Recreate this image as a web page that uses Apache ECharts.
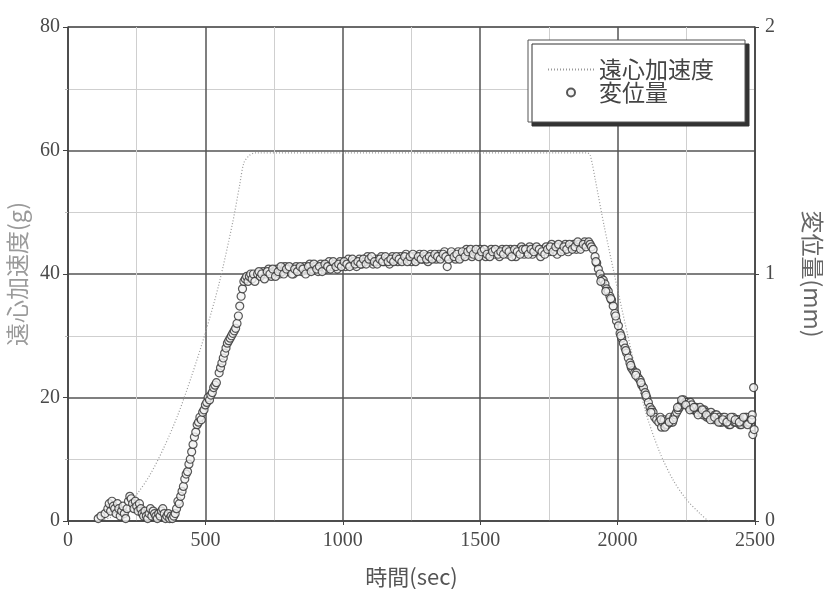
<!DOCTYPE html>
<html>
<head>
<meta charset="utf-8">
<script src="https://cdn.jsdelivr.net/npm/echarts@6/dist/echarts.min.js"></script>
<style>
  html, body { margin: 0; padding: 0; background: #fff; }
  #chart { width: 829px; height: 589px; }
</style>
</head>
<body>
<div id="chart"></div>
<script>
// ===== data =====
const seriesNames = ['遠心加速度', '変位量']

// centrifugal acceleration (g) vs time (sec)
const accelData = [
  [100, 0], [150, 0.5], [200, 1.9], [250, 4.3], [300, 7.6], [350, 12], [400, 17.2],
  [450, 23.5], [500, 30.5], [550, 38.5], [600, 48.5], [625, 54.5], [640, 58],
  [660, 59.2], [680, 59.6], [1000, 59.6], [1500, 59.6], [1890, 59.6], [1900, 59.3],
  [1920, 55], [1950, 48], [2000, 37.5], [2050, 27.5], [2100, 18], [2150, 11.5],
  [2200, 6.8], [2250, 3.5], [2300, 1.2], [2330, 0]
]

// displacement (mm) vs time (sec)
const dispStart = [
  [110, 0.01], [120, 0.02], [135, 0.03], [145, 0.05], [150, 0.07], [155, 0.04], [160, 0.08],
  [165, 0.06], [170, 0.05], [175, 0.03], [180, 0.07], [185, 0.05], [190, 0.02], [195, 0.04],
  [200, 0.06], [205, 0.03], [210, 0.01], [215, 0.05], [220, 0.08], [225, 0.1], [230, 0.09],
  [235, 0.07], [240, 0.05], [245, 0.08], [250, 0.06], [255, 0.04], [260, 0.07], [265, 0.05],
  [270, 0.03], [275, 0.02], [280, 0.04], [285, 0.02], [290, 0.01], [295, 0.03], [300, 0.05],
  [305, 0.02], [310, 0.04], [315, 0.03], [320, 0.02], [325, 0.01], [330, 0.03], [335, 0.02],
  [340, 0.04], [345, 0.05], [350, 0.03], [355, 0.01], [360, 0.02], [365, 0.03], [370, 0.01],
  [375, 0.02], [380, 0.01], [385, 0.02], [390, 0.03]
]
const dispRise = [
  [395, 0.05], [400, 0.08], [405, 0.07], [410, 0.1], [415, 0.12], [420, 0.14], [425, 0.17],
  [430, 0.19], [435, 0.2], [440, 0.23], [445, 0.25], [450, 0.28], [455, 0.31], [460, 0.34],
  [465, 0.36], [470, 0.39], [475, 0.4], [480, 0.42], [485, 0.41], [490, 0.44], [495, 0.45],
  [500, 0.47], [505, 0.48], [510, 0.5], [515, 0.49], [520, 0.51], [525, 0.52], [530, 0.54],
  [535, 0.55], [540, 0.56], [550, 0.6], [555, 0.62], [560, 0.64], [565, 0.66], [570, 0.68],
  [575, 0.7], [580, 0.72], [585, 0.73], [590, 0.74], [595, 0.75], [600, 0.76], [605, 0.77],
  [610, 0.78], [615, 0.8], [620, 0.83], [625, 0.87], [630, 0.91], [635, 0.94], [640, 0.97],
  [645, 0.98], [650, 0.99], [655, 0.97], [660, 0.99], [665, 1.0], [670, 0.98], [675, 1.0],
  [680, 0.97]
]
const dispPlateau = [
  [690, 1.00], [700, 0.99], [710, 1.01], [720, 1.00], [730, 1.02], [740, 0.99], [750, 1.01],
  [760, 1.02], [770, 1.00], [780, 1.01], [790, 1.03], [800, 1.01], [810, 1.02], [820, 1.00],
  [830, 1.03], [840, 1.02], [850, 1.01], [860, 1.03], [870, 1.02], [880, 1.04], [890, 1.02],
  [900, 1.03], [910, 1.01], [920, 1.04], [930, 1.03], [940, 1.02], [950, 1.05], [960, 1.03],
  [970, 1.04], [980, 1.02], [990, 1.05], [1000, 1.04], [1010, 1.03], [1020, 1.06], [1030, 1.04],
  [1040, 1.05], [1050, 1.03], [1060, 1.06], [1070, 1.04], [1080, 1.05], [1090, 1.07], [1100, 1.05],
  [1110, 1.04], [1120, 1.06], [1130, 1.05], [1140, 1.07], [1150, 1.05], [1160, 1.06], [1170, 1.04],
  [1180, 1.07], [1190, 1.06], [1200, 1.05], [1210, 1.07], [1220, 1.06], [1230, 1.08], [1240, 1.06],
  [1250, 1.05], [1260, 1.07], [1270, 1.06], [1280, 1.08], [1290, 1.06], [1300, 1.07], [1310, 1.05],
  [1320, 1.08], [1330, 1.07], [1340, 1.06], [1350, 1.08], [1360, 1.07], [1370, 1.09], [1380, 1.03],
  [1390, 1.07], [1400, 1.08], [1410, 1.06], [1420, 1.09], [1430, 1.07], [1440, 1.08], [1450, 1.10],
  [1460, 1.08], [1470, 1.07], [1480, 1.09], [1490, 1.08], [1500, 1.10], [1510, 1.08], [1520, 1.07],
  [1530, 1.09], [1540, 1.10], [1550, 1.08], [1560, 1.09], [1570, 1.07], [1580, 1.10], [1590, 1.09],
  [1600, 1.08], [1610, 1.10], [1620, 1.09], [1630, 1.07], [1640, 1.10], [1650, 1.11], [1660, 1.08],
  [1670, 1.09], [1680, 1.11], [1690, 1.08], [1700, 1.10], [1710, 1.09], [1720, 1.07], [1730, 1.10],
  [1740, 1.11], [1750, 1.09], [1760, 1.12], [1770, 1.10], [1780, 1.08], [1790, 1.11], [1800, 1.10],
  [1810, 1.12], [1820, 1.09], [1830, 1.11], [1840, 1.12], [1850, 1.10], [1860, 1.12], [1870, 1.11],
  [1880, 1.13], [1890, 1.12]
]
// second pass of readings inside the same dense band
const dispPlateauB = [
  [695, 1.01], [705, 1.00], [715, 0.98], [725, 1.01], [735, 1.00], [745, 1.02], [755, 0.99],
  [765, 1.01], [775, 1.03], [785, 1.00], [795, 1.02], [805, 1.03], [815, 1.00], [825, 1.02],
  [835, 1.01], [845, 1.03], [855, 1.02], [865, 1.00], [875, 1.03], [885, 1.01], [895, 1.04],
  [905, 1.02], [915, 1.03], [925, 1.01], [935, 1.04], [945, 1.03], [955, 1.02], [965, 1.05],
  [975, 1.03], [985, 1.04], [995, 1.03], [1005, 1.05], [1015, 1.04], [1025, 1.03], [1035, 1.06],
  [1045, 1.04], [1055, 1.05], [1065, 1.04], [1075, 1.06], [1085, 1.04], [1095, 1.06], [1105, 1.07],
  [1115, 1.05], [1125, 1.04], [1135, 1.06], [1145, 1.05], [1155, 1.07], [1165, 1.05], [1175, 1.06],
  [1185, 1.05], [1195, 1.07], [1205, 1.06], [1215, 1.05], [1225, 1.07], [1235, 1.05], [1245, 1.07],
  [1255, 1.08], [1265, 1.05], [1275, 1.07], [1285, 1.06], [1295, 1.08], [1305, 1.06], [1315, 1.07],
  [1325, 1.06], [1335, 1.08], [1345, 1.07], [1355, 1.06], [1365, 1.08], [1375, 1.07], [1385, 1.06],
  [1395, 1.09], [1405, 1.07], [1415, 1.08], [1425, 1.06], [1435, 1.09], [1445, 1.07], [1455, 1.09],
  [1465, 1.10], [1475, 1.08], [1485, 1.10], [1495, 1.07], [1505, 1.09], [1515, 1.10], [1525, 1.08],
  [1535, 1.07], [1545, 1.09], [1555, 1.10], [1565, 1.08], [1575, 1.09], [1585, 1.08], [1595, 1.10],
  [1605, 1.09], [1615, 1.07], [1625, 1.10], [1635, 1.09], [1645, 1.08], [1655, 1.10], [1665, 1.10],
  [1675, 1.08], [1685, 1.10], [1695, 1.09], [1705, 1.11], [1715, 1.10], [1725, 1.09], [1735, 1.08],
  [1745, 1.10], [1755, 1.11], [1765, 1.09], [1775, 1.11], [1785, 1.12], [1795, 1.09], [1805, 1.11],
  [1815, 1.10], [1825, 1.12], [1835, 1.10], [1845, 1.11], [1855, 1.13], [1865, 1.10], [1875, 1.12],
  [1885, 1.11], [1895, 1.13]
]
const dispFall = [
  [1900, 1.12], [1905, 1.11], [1911, 1.10], [1918, 1.07], [1924, 1.045], [1930, 1.02], [1936, 1.0],
  [1942, 0.98], [1948, 0.975], [1954, 0.96], [1960, 0.94], [1966, 0.93], [1972, 0.91], [1978, 0.895],
  [1984, 0.87], [1990, 0.84], [1996, 0.81], [2003, 0.79], [2009, 0.76], [2015, 0.74], [2021, 0.72],
  [2027, 0.70], [2033, 0.68], [2039, 0.66], [2045, 0.64], [2050, 0.62], [2056, 0.61], [2062, 0.60],
  [2069, 0.60], [2075, 0.58], [2082, 0.57], [2088, 0.55], [2094, 0.54], [2100, 0.52], [2106, 0.50],
  [2112, 0.48], [2118, 0.46], [2124, 0.45], [2129, 0.44], [2135, 0.42], [2142, 0.41],
  [1921, 1.05], [1939, 0.97], [1957, 0.93], [1975, 0.90], [1993, 0.83], [2012, 0.75], [2030, 0.69],
  [2048, 0.63], [2066, 0.59], [2085, 0.56], [2103, 0.51], [2121, 0.44]
]
const dispTail = [
  [2150, 0.40], [2155, 0.42], [2160, 0.38], [2165, 0.40], [2170, 0.41], [2175, 0.39], [2180, 0.39],
  [2185, 0.41], [2190, 0.42], [2195, 0.40], [2200, 0.40], [2205, 0.42], [2210, 0.43], [2215, 0.44],
  [2220, 0.45], [2225, 0.46], [2230, 0.47], [2235, 0.48], [2240, 0.49], [2245, 0.48], [2250, 0.48],
  [2255, 0.47], [2260, 0.46], [2265, 0.48], [2270, 0.47], [2275, 0.45], [2280, 0.45], [2285, 0.46],
  [2290, 0.44], [2295, 0.45], [2300, 0.46], [2305, 0.44], [2310, 0.43], [2315, 0.45], [2320, 0.44],
  [2325, 0.42], [2330, 0.42], [2335, 0.43], [2340, 0.44], [2345, 0.42], [2350, 0.41], [2355, 0.43],
  [2360, 0.43], [2365, 0.41], [2370, 0.42], [2375, 0.40], [2380, 0.40], [2385, 0.42], [2390, 0.42],
  [2395, 0.40], [2400, 0.41], [2405, 0.39], [2410, 0.39], [2415, 0.41], [2420, 0.42], [2425, 0.40],
  [2430, 0.40], [2435, 0.41], [2440, 0.41], [2445, 0.39], [2450, 0.39], [2455, 0.41], [2460, 0.40],
  [2465, 0.42], [2470, 0.42], [2475, 0.40], [2480, 0.40], [2485, 0.41], [2490, 0.43],
  [2158, 0.41], [2172, 0.38], [2188, 0.40], [2203, 0.41], [2218, 0.46], [2233, 0.49], [2248, 0.47],
  [2263, 0.45], [2278, 0.46], [2293, 0.43], [2308, 0.45], [2323, 0.43], [2338, 0.41], [2353, 0.42],
  [2368, 0.40], [2383, 0.41], [2398, 0.40], [2413, 0.42], [2428, 0.41], [2443, 0.40], [2458, 0.42],
  [2473, 0.39], [2488, 0.41],
  [2495, 0.54], [2492, 0.35], [2497, 0.37]
]

const dispData = [...dispStart, ...dispRise, ...dispPlateau, ...dispPlateauB, ...dispFall, ...dispTail]

// ===== chart =====
const numFont = { fontFamily: 'Liberation Serif', fontSize: 20, color: '#4a4a4a' }
const cjkFont = 'Noto Sans CJK JP'

const chart = echarts.init(document.getElementById('chart'))
chart.setOption({
  animation: false,
  backgroundColor: '#fff',
  grid: {
    left: 68, right: 74, top: 27, bottom: 68,
    outerBoundsMode: 'none',
    containLabel: false,
    show: true, borderColor: '#555', borderWidth: 1,
  },
  legend: {
    orient: 'vertical',
    left: 528,
    top: 40,
    data: [
      { name: seriesNames[0], itemStyle: { opacity: 0 } },
      { name: seriesNames[1] },
    ],
    itemWidth: 46,
    itemHeight: 8,
    itemGap: 0,
    padding: [18, 31, 18, 19],
    backgroundColor: '#fff',
    borderColor: '#555',
    borderWidth: 1,
    shadowColor: '#333',
    shadowOffsetX: 4,
    shadowOffsetY: 4,
    shadowBlur: 0,
    textStyle: { fontFamily: cjkFont, fontSize: 23, color: '#444', lineHeight: 23 },
  },
  xAxis: {
    type: 'value',
    min: 0,
    max: 2500,
    interval: 500,
    name: '時間(sec)',
    nameLocation: 'middle',
    nameGap: 45,
    nameTextStyle: { fontFamily: cjkFont, fontSize: 22, color: '#555' },
    axisLine: { lineStyle: { color: '#444', width: 1.5 } },
    axisTick: { show: true, length: 4, lineStyle: { color: '#444' } },
    axisLabel: { ...numFont, margin: 10, formatter: (v) => String(v) },
    splitLine: { lineStyle: { color: '#555', width: 1.5 } },
    minorTick: { show: false, splitNumber: 2 },
    minorSplitLine: { show: true, lineStyle: { color: '#cfcfcf', width: 1 } },
  },
  yAxis: [
    {
      type: 'value',
      min: 0,
      max: 80,
      interval: 20,
      name: '遠心加速度(g)',
      nameLocation: 'middle',
      nameGap: 38,
      nameTextStyle: { fontFamily: cjkFont, fontSize: 23, color: '#9a9a9a' },
      axisLine: { show: true, lineStyle: { color: '#444', width: 1.5 } },
      axisTick: { show: true, length: 5, lineStyle: { color: '#444' } },
      minorTick: { show: true, splitNumber: 2, length: 3, lineStyle: { color: '#bbb' } },
      axisLabel: { ...numFont, margin: 8 },
      splitLine: { lineStyle: { color: '#555', width: 1.5 } },
      minorSplitLine: { show: true, lineStyle: { color: '#cfcfcf', width: 1 } },
    },
    {
      type: 'value',
      min: 0,
      max: 2,
      interval: 1,
      position: 'right',
      name: '変位量(mm)',
      nameLocation: 'middle',
      nameGap: 46,
      nameRotate: -90,
      nameTextStyle: { fontFamily: cjkFont, fontSize: 23, color: '#666' },
      axisLine: { show: true, lineStyle: { color: '#444', width: 1.5 } },
      axisTick: { show: true, length: 4, lineStyle: { color: '#444' } },
      axisLabel: { ...numFont, margin: 10 },
      splitLine: { show: false },
    },
  ],
  series: [
    {
      name: seriesNames[0],
      type: 'line',
      yAxisIndex: 0,
      data: accelData,
      smooth: 0.3,
      symbol: 'none',
      lineStyle: { color: '#9a9a9a', width: 1.2, type: [1, 2] },
      itemStyle: { color: '#9a9a9a' },
      z: 3,
    },
    {
      name: seriesNames[1],
      type: 'scatter',
      yAxisIndex: 1,
      data: dispData,
      symbol: 'circle',
      symbolSize: 8,
      itemStyle: { color: '#f2f2f2', borderColor: '#2e2e2e', borderWidth: 1.2 },
      z: 4,
    },
  ],
})
</script>
</body>
</html>
